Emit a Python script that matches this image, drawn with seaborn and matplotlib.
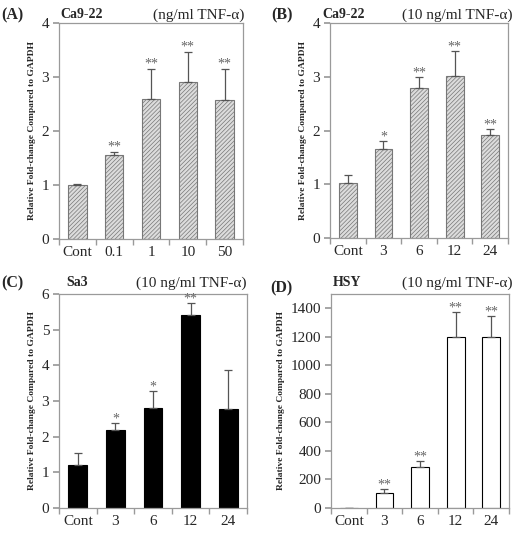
import numpy as np
import pandas as pd
import matplotlib
matplotlib.use("Agg")
import matplotlib.pyplot as plt
import seaborn as sns

# ---- data ----
dose_labels = ["Cont", "0.1", "1", "10", "50"]
time_labels = ["Cont", "3", "6", "12", "24"]

a_vals = [1.00, 1.55, 2.60, 2.90, 2.58]
a_err = [0.01, 0.07, 0.55, 0.57, 0.57]
a_stars = ["", "**", "**", "**", "**"]

b_vals = [1.02, 1.65, 2.80, 3.02, 1.92]
b_err = [0.16, 0.15, 0.19, 0.46, 0.10]
b_stars = ["", "*", "**", "**", "**"]

c_vals = [1.20, 2.20, 2.81, 5.41, 2.77]
c_err = [0.33, 0.17, 0.46, 0.34, 1.09]
c_stars = ["", "*", "*", "**", ""]

d_vals = [3, 107, 288, 1202, 1200]
d_err = [0, 23, 40, 172, 144]
d_stars = ["", "**", "**", "**", "**"]

W, H = 520, 546
SERIF = ["Liberation Serif", "DejaVu Serif"]

sns.set_theme(style="white")
plt.rcParams["font.family"] = SERIF
plt.rcParams["hatch.linewidth"] = 0.5


def px_rect(x0, y0, x1, y1):
    return [x0 / W, 1 - y1 / H, (x1 - x0) / W, (y1 - y0) / H]


def panel(fig, rect, labels, vals, errs, stars, ymax, yticks, style):
    ax = fig.add_axes(rect)
    df = pd.DataFrame({"cond": labels, "val": vals})
    if style == "hatch":
        kw = dict(color="#dcdcdc", edgecolor="#777777", hatch="////////", linewidth=0.8)
    elif style == "black":
        kw = dict(color="black", edgecolor="black", linewidth=0.8)
    else:
        kw = dict(color="white", edgecolor="black", linewidth=0.8)
    sns.barplot(data=df, x="cond", y="val", order=labels, width=0.5,
                errorbar=None, saturation=1, ax=ax, **kw)
    pos = np.arange(len(labels))
    ax.errorbar(pos, vals, yerr=[np.zeros(len(errs)), errs], fmt="none",
                ecolor="#555555", elinewidth=0.9, capsize=3, capthick=0.9)
    for p, v, e, s in zip(pos, vals, errs, stars):
        if s:
            ax.text(p, v + e + ymax * 0.004, s, ha="center", va="baseline",
                    fontsize=10, color="#666666", family=SERIF)
    ax.set_xlim(-0.5, len(labels) - 0.5)
    ax.set_ylim(0, ymax)
    ax.set_yticks(yticks)
    ax.set_xlabel("")
    ax.set_ylabel("Relative Fold-change Compared to GAPDH", fontsize=6.8,
                  fontweight="bold", labelpad=4)
    for sp in ax.spines.values():
        sp.set_color("#9a9a9a")
        sp.set_linewidth(0.9)
        sp.set_visible(True)
    ax.tick_params(axis="x", which="major", length=0, labelsize=11, pad=5)
    ax.set_xticks(np.arange(-0.5, len(labels)), minor=True)
    ax.tick_params(axis="x", which="minor", direction="out", length=4,
                   color="#9a9a9a", bottom=True)
    ax.tick_params(axis="y", direction="out", length=4, color="#9a9a9a",
                   labelsize=11, left=True, pad=3)
    return ax


fig = plt.figure(figsize=(W / 100, H / 100), dpi=100)

panel(fig, px_rect(59, 23, 243, 239), dose_labels, a_vals, a_err, a_stars,
      4, [0, 1, 2, 3, 4], "hatch")
panel(fig, px_rect(330, 23, 508, 238), time_labels, b_vals, b_err, b_stars,
      4, [0, 1, 2, 3, 4], "hatch")
panel(fig, px_rect(59, 294, 247, 508), time_labels, c_vals, c_err, c_stars,
      6, [0, 1, 2, 3, 4, 5, 6], "black")
panel(fig, px_rect(331, 294, 509, 508), time_labels, d_vals, d_err, d_stars,
      1500, [0, 200, 400, 600, 800, 1000, 1200, 1400], "white")


def ftext(x, y, s, ha="left", bold=False, size=11):
    fig.text(x / W, 1 - y / H, s, ha=ha, va="center", fontsize=size,
             fontweight="bold" if bold else "normal", family=SERIF)


ftext(1, 15, "(A)", bold=True, size=11.5)
ftext(60, 15, "Ca9-22", bold=True, size=10)
ftext(244, 15, "(ng/ml TNF-α)", ha="right", size=11)

ftext(271, 15, "(B)", bold=True, size=11.5)
ftext(322, 15, "Ca9-22", bold=True, size=10)
ftext(512, 15, "(10 ng/ml TNF-α)", ha="right", size=11)

ftext(1, 283, "(C)", bold=True, size=11.5)
ftext(66, 283, "Sa3", bold=True, size=10)
ftext(247, 283, "(10 ng/ml TNF-α)", ha="right", size=11)

ftext(270, 288, "(D)", bold=True, size=11.5)
ftext(333, 283, "HSY", bold=True, size=10)
ftext(512, 283, "(10 ng/ml TNF-α)", ha="right", size=11)

fig.savefig("out.png", dpi=100)
